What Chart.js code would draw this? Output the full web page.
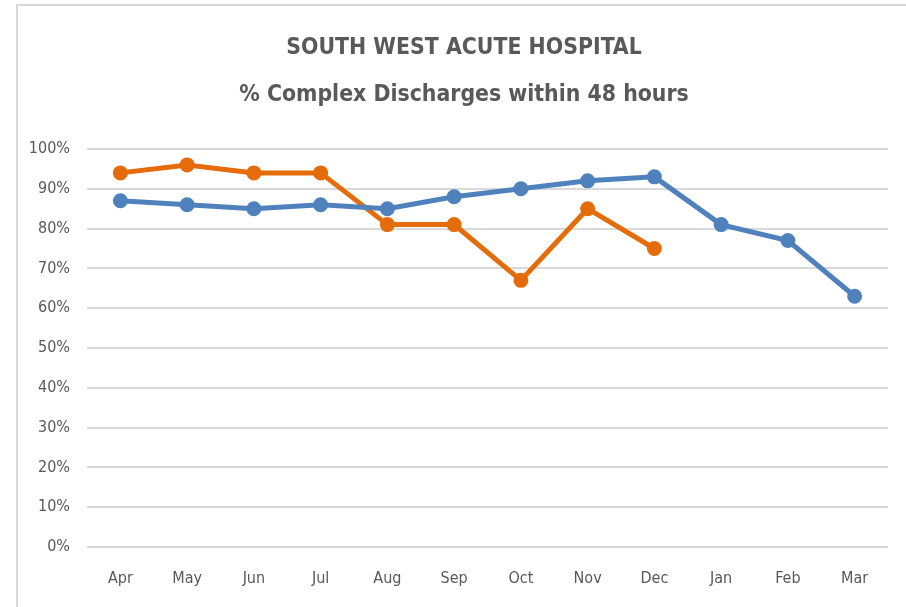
<!DOCTYPE html>
<html>
<head>
<meta charset="utf-8">
<script src="https://cdn.jsdelivr.net/npm/chart.js@4"></script>
<style>
  html, body { margin: 0; padding: 0; background: #ffffff; }
  #wrap { position: relative; width: 906px; height: 607px; }
  #frame { position: absolute; left: 16px; top: 4px; width: 900px; height: 610px;
           border-top: 2px solid #d9d9d9; border-left: 2px solid #d9d9d9; box-sizing: border-box; }
  canvas { position: absolute; left: 0; top: 0; }
</style>
</head>
<body>
<div id="wrap">
  <div id="frame"></div>
  <canvas id="c" width="906" height="607"></canvas>
</div>
<script>
const months = ["Apr", "May", "Jun", "Jul", "Aug", "Sep", "Oct", "Nov", "Dec", "Jan", "Feb", "Mar"];
const seriesBlue = [87, 86, 85, 86, 85, 88, 90, 92, 93, 81, 77, 63];
const seriesOrange = [94, 96, 94, 94, 81, 81, 67, 85, 75, null, null, null];
const titleLines = ["SOUTH WEST ACUTE HOSPITAL", "% Complex Discharges within 48 hours"];

const FONT = "'Liberation Sans Narrow', 'DejaVu Sans Condensed', 'Roboto Condensed', 'Open Sans', sans-serif";

const titlePlugin = {
  id: 'centredTitle',
  afterDraw(chart) {
    const ctx = chart.ctx;
    ctx.save();
    ctx.fillStyle = '#595959';
    ctx.font = "bold 22.8px " + FONT;
    ctx.textAlign = 'center';
    ctx.textBaseline = 'middle';
    ctx.fillText(titleLines[0], 464, 48);
    ctx.fillText(titleLines[1], 464, 95);
    ctx.restore();
  }
};

new Chart(document.getElementById('c'), {
  type: 'line',
  data: {
    labels: months,
    datasets: [
      { label: 'Series 1', data: seriesBlue, borderColor: '#4F81BD', backgroundColor: '#4F81BD',
        borderWidth: 5, pointRadius: 5, pointHoverRadius: 5, tension: 0, spanGaps: false },
      { label: 'Series 2', data: seriesOrange, borderColor: '#E46C0A', backgroundColor: '#E46C0A',
        borderWidth: 5, pointRadius: 5, pointHoverRadius: 5, tension: 0, spanGaps: false }
    ]
  },
  plugins: [titlePlugin],
  options: {
    responsive: false,
    animation: false,
    devicePixelRatio: 1,
    layout: { padding: { left: 0, right: 18, top: 149, bottom: 0 } },
    plugins: {
      legend: { display: false },
      tooltip: { enabled: false },
      title: { display: false }
    },
    scales: {
      x: {
        offset: true,
        grid: { display: false, drawTicks: false },
        border: { display: false },
        ticks: { color: '#595959', font: { family: FONT, size: 16 }, padding: 22, maxRotation: 0, autoSkip: false },
        afterFit: (s) => { s.height = 60; }
      },
      y: {
        min: 0, max: 100,
        grid: { color: '#d9d9d9', lineWidth: 2, drawTicks: false },
        border: { display: false },
        ticks: { stepSize: 10, color: '#595959', font: { family: FONT, size: 16 }, padding: 17,
                 callback: (v) => v + '%' },
        afterFit: (s) => { s.width = 87; }
      }
    }
  }
});
</script>
</body>
</html>
